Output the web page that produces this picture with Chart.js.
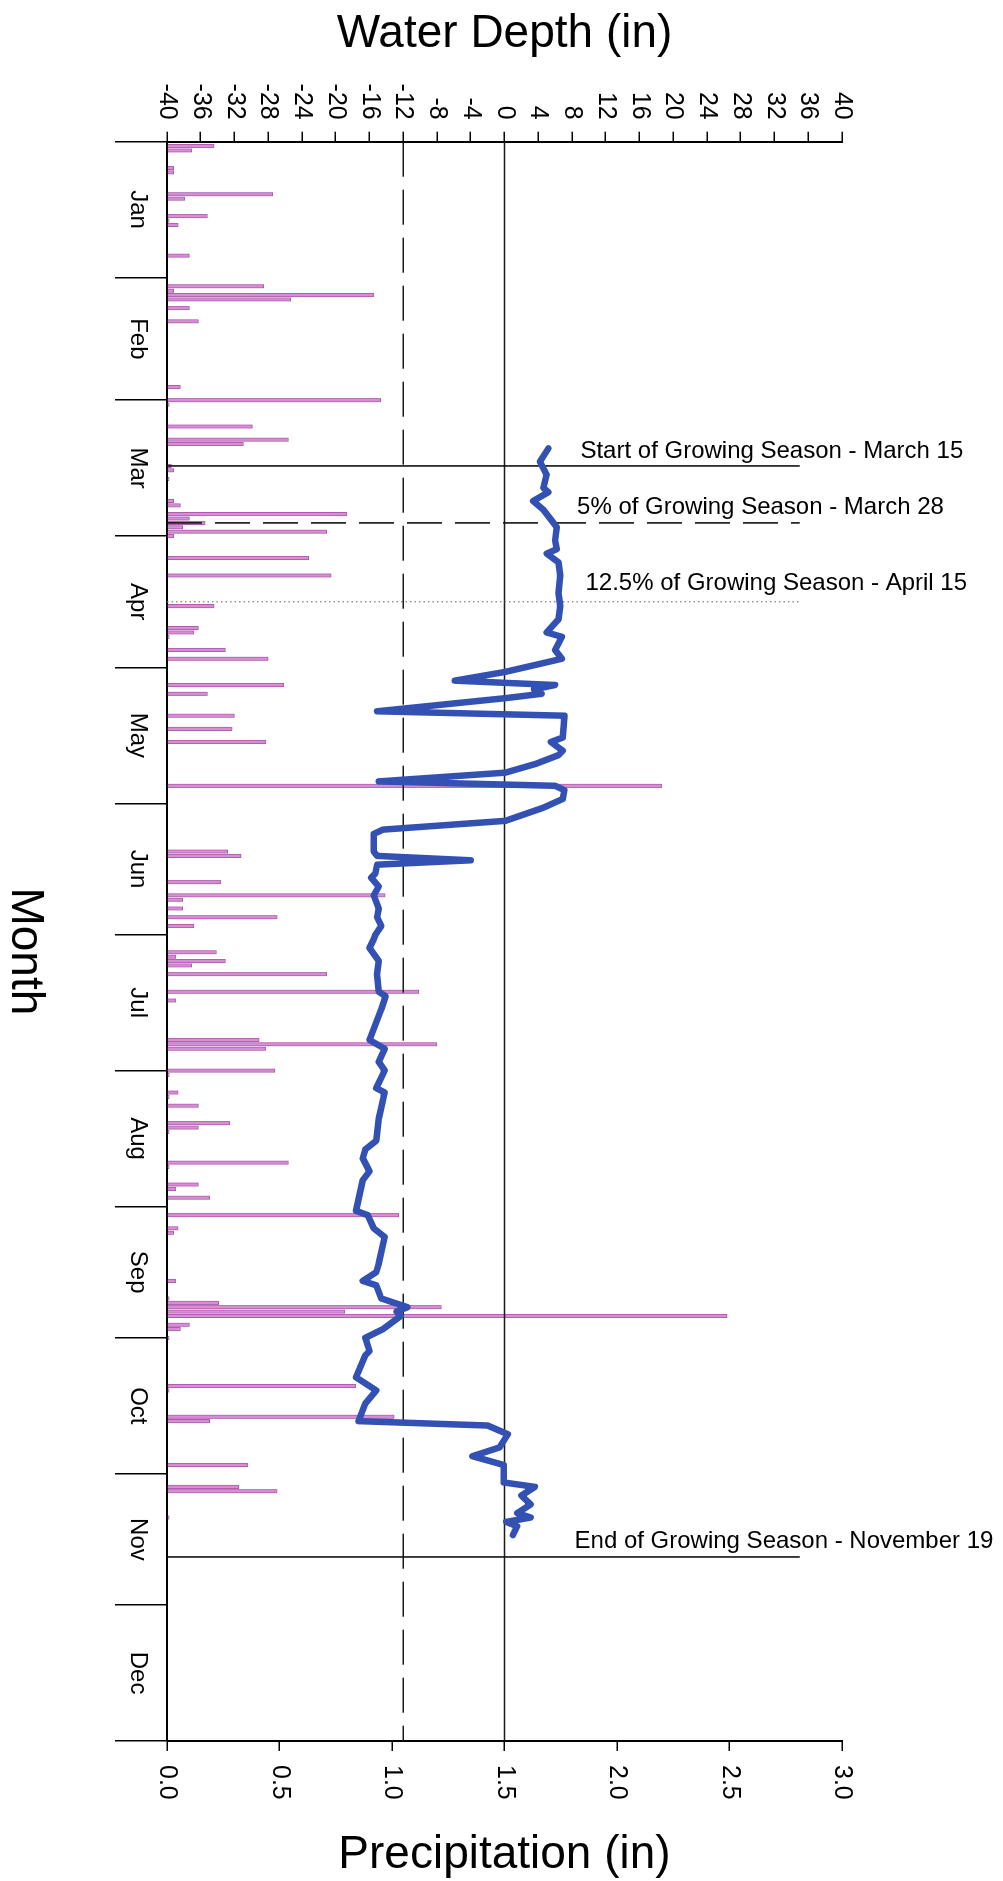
<!DOCTYPE html>
<html>
<head>
<meta charset="utf-8">
<title>Water Depth and Precipitation</title>
<script src="https://cdn.jsdelivr.net/npm/chart.js@4.4.1/dist/chart.umd.min.js"></script>
<style>
  html, body { margin: 0; padding: 0; background: #fff; }
  body { width: 1003px; height: 1881px; overflow: hidden; position: relative; }
  /* the chart is laid out landscape (months left to right) and turned a quarter clockwise */
  #frame {
    position: absolute; left: 0; top: 0;
    width: 1881px; height: 1003px;
    transform-origin: 0 0;
    transform: translate(1003px, 0) rotate(90deg);
  }
  canvas { display: block; }
</style>
</head>
<body>
<div id="frame"><canvas id="chart" width="1881" height="1003"></canvas></div>
<script>
const FONT = '"Liberation Sans", Arial, Helvetica, sans-serif';

// ---- axes ----
const monthNames = ['Jan', 'Feb', 'Mar', 'Apr', 'May', 'Jun', 'Jul', 'Aug', 'Sep', 'Oct', 'Nov', 'Dec'];
const monthStartDays = [0, 31, 59, 90, 120, 151, 181, 212, 243, 273, 304, 334, 365];
const depthTicks = [-40, -36, -32, -28, -24, -20, -16, -12, -8, -4, 0, 4, 8, 12, 16, 20, 24, 28, 32, 36, 40];
const precipTicks = [0, 0.5, 1.0, 1.5, 2.0, 2.5, 3.0];

// ---- daily precipitation (day of year, inches) ----
const precipDay = [1, 2, 6, 7, 12, 13, 17, 18, 19, 26, 33, 34, 35, 36, 38, 41, 56, 59, 60, 65,
  68, 69, 74, 75, 77, 82, 83, 85, 86, 87, 88, 89, 90, 95, 99, 106, 111, 112, 113, 116,
  118, 124, 126, 131, 134, 137, 147, 162, 163, 169, 172, 173, 175, 177, 179, 185, 186, 187, 188, 190,
  194, 196, 205, 206, 207, 212, 213, 217, 218, 220, 224, 225, 226, 233, 234, 238, 239, 241, 245, 248,
  249, 260, 264, 265, 266, 267, 268, 270, 271, 273, 284, 285, 291, 292, 302, 307, 308, 314];
const precipIn = [0.21, 0.11, 0.03, 0.03, 0.47, 0.08, 0.18, 0.01, 0.05, 0.10, 0.43, 0.03, 0.92, 0.55, 0.10, 0.14, 0.06, 0.95, 0.01, 0.38,
  0.54, 0.34, 0.02, 0.03, 0.01, 0.03, 0.06, 0.80, 0.10, 0.17, 0.07, 0.71, 0.03, 0.63, 0.73, 0.21, 0.14, 0.12, 0.01, 0.26,
  0.45, 0.52, 0.18, 0.30, 0.29, 0.44, 2.20, 0.27, 0.33, 0.24, 0.97, 0.07, 0.07, 0.49, 0.12, 0.22, 0.04, 0.26, 0.11, 0.71,
  1.12, 0.04, 0.41, 1.20, 0.44, 0.48, 0.01, 0.05, 0.01, 0.14, 0.28, 0.14, 0.01, 0.54, 0.01, 0.14, 0.04, 0.19, 1.03, 0.05,
  0.03, 0.04, 0.01, 0.23, 1.22, 0.79, 2.49, 0.10, 0.06, 0.01, 0.84, 0.01, 1.01, 0.19, 0.36, 0.32, 0.49, 0.01];

// ---- well water depth (day of year, inches relative to ground surface) ----
const depthDay = [70, 73, 76, 79, 80, 82, 84, 88, 91, 93, 94, 96, 99, 103, 106, 109, 112, 113, 116, 118,
  119, 121, 123, 124, 125, 126, 127, 130, 131, 136, 137, 139, 140, 142, 144, 146, 147, 148, 150, 152,
  155, 157, 158, 162, 163, 164, 165, 167, 168, 170, 172, 175, 177, 179, 181, 182, 184, 187, 190, 194,
  195, 198, 205, 207, 210, 212, 216, 217, 223, 228, 230, 232, 235, 237, 244, 245, 248, 250, 256, 258,
  260, 261, 264, 266, 267, 268, 271, 273, 276, 277, 282, 285, 288, 292, 293, 295, 298, 300, 302, 306,
  307, 309, 311, 313, 314, 315, 316, 318];
const depthIn = [5.2, 4.2, 5.0, 4.6, 5.2, 3.4, 4.6, 6.2, 6.0, 6.2, 5.0, 6.4, 6.6, 6.4, 6.6, 6.4, 5.0, 6.8, 6.0, 6.8,
  4.6, 0.1, -5.9, 6.0, 3.5, 4.4, 0.1, -15.1, 7.1, 6.9, 5.5, 6.9, 6.4, 3.7, 0.1, -14.9, 6.0, 7.1, 6.9, 4.6,
  0.1, -14.4, -15.5, -15.5, -15.1, -4.0, -15.1, -15.3, -15.8, -14.9, -15.5, -14.9, -15.1, -14.6, -15.3, -15.5, -16.0, -14.9, -15.1, -14.9,
  -14.1, -14.6, -16.0, -14.2, -14.9, -14.2, -15.2, -14.2, -14.9, -15.2, -16.5, -16.8, -16.0, -16.8, -17.6, -16.2, -15.5, -14.2, -14.9, -15.2,
  -16.8, -15.2, -14.6, -11.5, -12.8, -12.3, -14.4, -16.5, -16.0, -16.5, -17.6, -15.2, -16.5, -17.3, -2.0, 0.4, -0.6, -3.8, -0.1, -0.1,
  3.6, 2.0, 3.1, 1.5, 3.1, 0.2, 1.5, 1.0];

// ---- reference depths (ground surface, 12-inch criterion) ----
const referenceDepths = [0, -12];

// ---- growing season markers ----
const seasonDates = [[3, 15], [3, 28], [4, 15], [11, 19]];
const seasonLabels = [
  'Start of Growing Season - March 15',
  '5% of Growing Season - March 28',
  '12.5% of Growing Season - April 15',
  'End of Growing Season - November 19'
];

// marker styling: dash pattern, colour, width, label start (depth) and gap to the line
const seasonStyles = [
  { dash: [], color: '#111', width: 1.6, textAt: 9.0, gap: 8 },
  { dash: [35, 13], color: '#111', width: 1.6, textAt: 8.6, gap: 9 },
  { dash: [1.5, 3], color: '#777', width: 1.2, textAt: 9.6, gap: 12 },
  { dash: [], color: '#111', width: 1.6, textAt: 8.3, gap: 9 }
];
const seasonLineTop = 35;

function dayOfYear(month, day) {
  return monthStartDays[month - 1] + day;
}

const monthMidDays = monthNames.map((_, i) => (monthStartDays[i] + monthStartDays[i + 1]) / 2);
const monthBoundary = new Set(monthStartDays);

Chart.defaults.font.family = FONT;
Chart.defaults.color = '#000';

const datasets = [];

datasets.push({
  type: 'line',
  label: 'Water Depth',
  data: depthDay.map((d, i) => ({ x: d, y: depthIn[i] })),
  xAxisID: 'x',
  yAxisID: 'depth',
  borderColor: '#3351b3',
  borderWidth: 6.5,
  borderJoinStyle: 'round',
  borderCapStyle: 'round',
  pointRadius: 0,
  tension: 0,
  order: 0
});

datasets.push({
  type: 'bar',
  label: 'Precipitation',
  data: precipDay.map((d, i) => ({ x: d, y: precipIn[i] })),
  xAxisID: 'x',
  yAxisID: 'precip',
  backgroundColor: '#d68fd3',
  borderColor: '#b05aae',
  borderWidth: 1,
  barThickness: 3.6,
  order: 4
});

referenceDepths.forEach((v, i) => {
  datasets.push({
    type: 'line',
    label: 'Reference ' + v,
    data: [{ x: 0, y: v }, { x: 365, y: v }],
    xAxisID: 'x',
    yAxisID: 'depth',
    borderColor: '#1a1a1a',
    borderWidth: 1.6,
    borderDash: i === 0 ? [] : [35, 13],
    pointRadius: 0,
    order: 3
  });
});

seasonDates.forEach(([m, d], i) => {
  const s = seasonStyles[i];
  const doy = dayOfYear(m, d);
  datasets.push({
    type: 'line',
    label: seasonLabels[i],
    data: [{ x: doy, y: -40 }, { x: doy, y: seasonLineTop }],
    xAxisID: 'x',
    yAxisID: 'depth',
    borderColor: s.color,
    borderWidth: s.width,
    borderDash: s.dash,
    pointRadius: 0,
    order: 2
  });
});

// labels for the season markers, the month axis title and the precipitation axis title
const textLayer = {
  id: 'textLayer',
  afterDraw(chart) {
    const { ctx, scales, chartArea } = chart;
    const xs = scales.x, ds = scales.depth, ps = scales.precip;
    ctx.save();
    ctx.fillStyle = '#000';
    ctx.font = '24px ' + FONT;
    ctx.textAlign = 'left';
    ctx.textBaseline = 'alphabetic';
    seasonDates.forEach(([m, d], i) => {
      const s = seasonStyles[i];
      const px = xs.getPixelForValue(dayOfYear(m, d)) - s.gap;
      const py = ds.getPixelForValue(s.textAt);
      ctx.save();
      ctx.translate(px, py);
      ctx.rotate(-Math.PI / 2);
      ctx.fillText(seasonLabels[i], 0, 0);
      ctx.restore();
    });

    ctx.font = '46px ' + FONT;
    ctx.textAlign = 'center';
    ctx.fillText('Month', (chartArea.left + chartArea.right) / 2 + 10, xs.bottom - 12);

    ctx.translate(ps.right - 13, (chartArea.top + chartArea.bottom) / 2);
    ctx.rotate(-Math.PI / 2);
    ctx.fillText('Precipitation (in)', 0, 0);
    ctx.restore();
  }
};

new Chart(document.getElementById('chart'), {
  type: 'bar',
  data: { datasets },
  plugins: [textLayer],
  options: {
    responsive: false,
    animation: false,
    events: [],
    layout: { padding: { top: 161, left: 0, right: 0, bottom: 0 } },
    plugins: { legend: { display: false }, tooltip: { enabled: false } },
    scales: {
      x: {
        type: 'linear',
        axis: 'x',
        position: 'bottom',
        min: 0,
        max: 365,
        offset: false,
        afterBuildTicks: s => {
          s.ticks = monthStartDays.concat(monthMidDays).sort((a, b) => a - b).map(v => ({ value: v }));
        },
        afterFit: s => { s.height = 167; },
        ticks: {
          autoSkip: false,
          minRotation: 0,
          maxRotation: 0,
          padding: -37,
          color: '#000',
          font: { size: 24 },
          callback: v => {
            const i = monthMidDays.indexOf(v);
            return i >= 0 ? monthNames[i] : '';
          }
        },
        grid: {
          offset: false,
          drawOnChartArea: false,
          drawTicks: true,
          tickLength: 52,
          lineWidth: 1.5,
          color: c => (c.tick && monthBoundary.has(c.tick.value)) ? '#000' : 'rgba(0,0,0,0)'
        },
        border: { display: true, color: '#000', width: 2 },
        title: { display: false }
      },
      depth: {
        type: 'linear',
        axis: 'y',
        position: 'left',
        min: -40,
        max: 40,
        afterBuildTicks: s => { s.ticks = depthTicks.map(v => ({ value: v })); },
        afterFit: s => { s.width = 141.7; },
        ticks: { autoSkip: false, padding: 12, color: '#000', font: { size: 25 } },
        grid: { offset: false, drawOnChartArea: false, drawTicks: true, tickLength: 10, lineWidth: 1.5, color: '#000' },
        border: { display: true, color: '#000', width: 2 },
        title: {
          display: true,
          text: 'Water Depth (in)',
          color: '#000',
          font: { size: 46, lineHeight: 1 },
          padding: { top: 11, bottom: 0 }
        }
      },
      precip: {
        type: 'linear',
        axis: 'y',
        position: 'right',
        min: 0,
        max: 3,
        afterBuildTicks: s => { s.ticks = precipTicks.map(v => ({ value: v })); },
        afterFit: s => { s.width = 140; },
        ticks: {
          autoSkip: false,
          padding: 14,
          color: '#000',
          font: { size: 25 },
          callback: v => Number(v).toFixed(1)
        },
        grid: { offset: false, drawOnChartArea: false, drawTicks: true, tickLength: 10, lineWidth: 1.5, color: '#000' },
        border: { display: true, color: '#000', width: 2 }
      }
    }
  }
});
</script>
</body>
</html>
